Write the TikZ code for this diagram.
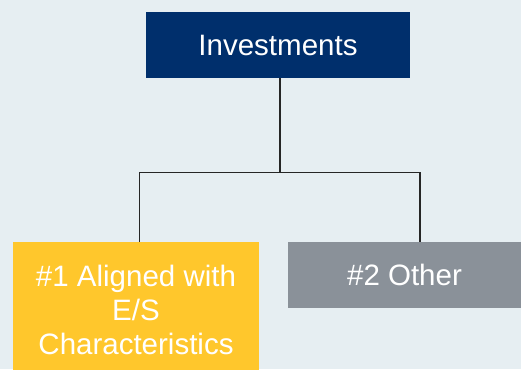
\documentclass[tikz,border=0pt]{standalone}
\usepackage{fontspec}
\setmainfont{Liberation Sans}
\definecolor{bgc}{RGB}{230,238,242}
\definecolor{navyc}{RGB}{0,47,108}
\definecolor{yelc}{RGB}{255,199,44}
\definecolor{grayc}{RGB}{138,145,153}
\begin{document}
\begin{tikzpicture}[x=1pt,y=-1pt,
  boxstyle/.style={draw=none,inner sep=0pt,text=white,align=center,
    font=\fontsize{29.5}{34}\selectfont},
  linkstyle/.style={draw=black!85,line width=1.1pt}]
\useasboundingbox (0,0) rectangle (521,369);
\fill[bgc] (0,0) rectangle (521,369);
\node[boxstyle,fill=navyc,minimum width=264pt,minimum height=66pt] (top) at (278,45) {Investments};
\node[boxstyle,fill=yelc,minimum width=246pt,minimum height=136pt] (y1) at (136,310) {\#1 Aligned with\\E/S\\Characteristics};
\node[boxstyle,fill=grayc,minimum width=233pt,minimum height=66pt] (y2) at (404.5,275) {\#2 Other};
\coordinate (j) at (280,172.5);
\coordinate (hl) at (139.5,172.5);
\coordinate (hr) at (420,172.5);
\draw[linkstyle] (top.south -| j) -- (j);
\draw[linkstyle] (hl |- y1.north) -- (hl) -- (hr) -- (hr |- y2.north);
\end{tikzpicture}
\end{document}
